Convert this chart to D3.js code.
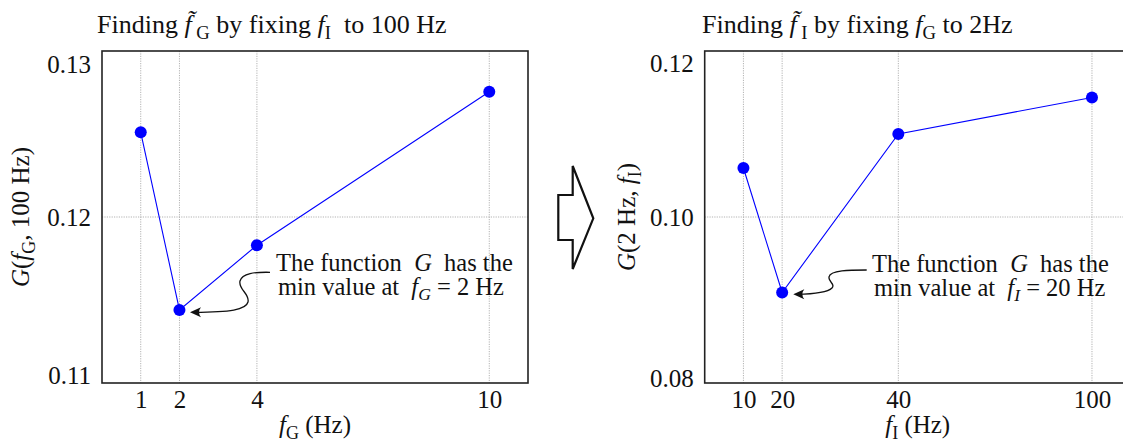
<!DOCTYPE html>
<html><head><meta charset="utf-8">
<script src="https://cdn.jsdelivr.net/npm/d3@7"></script>
<style>
html,body{margin:0;padding:0;background:#fff;}
text{font-family:"Liberation Serif","Times New Roman",serif;fill:#111;white-space:pre;}
</style></head>
<body><svg id="c" width="1123" height="443"></svg>
<script>
// ---- data ----
const leftX = [1, 2, 4, 10];
const leftY = [0.1251, 0.1144, 0.1183, 0.12755];
const leftXTicks = [1, 2, 4, 10];
const leftXTickLabels = ["1", "2", "4", "10"];
const leftYTicks = [0.13, 0.12, 0.11];

const rightXPos = [1, 2, 5, 10];
const rightXLabels = ["10", "20", "40", "100"];
const rightY = [0.1059, 0.0909, 0.1100, 0.1144];
const rightYTicks = [0.12, 0.10, 0.08];

const svg = d3.select("#c");
const FONT = 25;

function rich(sel, parts, size) {
  let shift = 0;
  parts.forEach(([t, f]) => {
    f = f || "";
    const sub = f.includes("s");
    const target = sub ? size * 0.22 : 0;
    sel.append("tspan").text(t)
      .attr("dy", target - shift)
      .style("font-style", f.includes("i") ? "italic" : "normal")
      .style("font-size", sub ? (size * 0.72) + "px" : size + "px");
    shift = target;
  });
}

function panel(cfg) {
  const g = svg.append("g");
  const x = d3.scaleLinear().domain([0, 11]).range([cfg.x0, cfg.x0 + 426]);
  const y = d3.scaleLinear().domain(cfg.yDomain).range([383, 51]);

  g.selectAll(".vg").data(cfg.xTicks).join("line")
    .attr("x1", d => x(d)).attr("x2", d => x(d)).attr("y1", 51).attr("y2", 383)
    .attr("stroke", "#aaa").attr("stroke-width", 0.9).attr("stroke-dasharray", "1.2,1.2");
  g.append("line")
    .attr("x1", cfg.x0).attr("x2", cfg.x0 + 426).attr("y1", y(cfg.yTicks[1])).attr("y2", y(cfg.yTicks[1]))
    .attr("stroke", "#aaa").attr("stroke-width", 0.9).attr("stroke-dasharray", "1.2,1.2");

  const xa = g.append("g").attr("transform", "translate(0,383)")
    .call(d3.axisBottom(x).tickValues(cfg.xTicks).tickSize(0).tickPadding(7)
      .tickFormat((d, i) => cfg.xLabels[i]));
  xa.select(".domain").remove();
  xa.selectAll("text").style("font-size", FONT + "px").attr("font-family", null).attr("fill", "#111");

  const ya = g.append("g").attr("transform", `translate(${cfg.x0},0)`)
    .call(d3.axisLeft(y).tickValues(cfg.yTicks).tickSize(0).tickPadding(11)
      .tickFormat(d3.format(".2f")));
  ya.select(".domain").remove();
  ya.selectAll("text").style("font-size", FONT + "px").attr("font-family", null).attr("fill", "#111");
  ya.selectAll(".tick").filter((d, i) => i === 0).select("text").attr("dy", cfg.topDy);
  ya.selectAll(".tick").filter((d, i) => i === 2).select("text").attr("dy", cfg.botDy);

  g.append("rect").attr("x", cfg.x0).attr("y", 51).attr("width", 426).attr("height", 332)
    .attr("fill", "none").attr("stroke", "#222").attr("stroke-width", 1.6);

  const pts = cfg.xs.map((d, i) => [d, cfg.ys[i]]);
  g.append("path").datum(pts)
    .attr("d", d3.line().x(d => x(d[0])).y(d => y(d[1])))
    .attr("fill", "none").attr("stroke", "#0000ff").attr("stroke-width", 1.1);
  g.selectAll(".pt").data(pts).join("circle")
    .attr("cx", d => x(d[0])).attr("cy", d => y(d[1])).attr("r", 6).attr("fill", "#0000ff");

  rich(svg.append("text").attr("x", cfg.titleX).attr("y", 33), cfg.title, 26);
  rich(svg.append("text").attr("x", x(5.5)).attr("y", 433).attr("text-anchor", "middle"), cfg.xTitle, 25);
  rich(svg.append("text").attr("transform", `translate(${cfg.yTitleX},217) rotate(-90)`).attr("text-anchor", "middle"), cfg.yTitle, 25);

  const a1 = svg.append("text").attr("x", cfg.annX).attr("y", cfg.annY);
  rich(a1, cfg.ann1, 24.5);
  const a2 = svg.append("text").attr("x", cfg.annX + 2).attr("y", cfg.annY + 24);
  rich(a2, cfg.ann2, 24.5);

  g.append("path").attr("d", cfg.curve).attr("fill", "none").attr("stroke", "#111").attr("stroke-width", 1.3);
  const [tx, ty] = cfg.tip;
  g.append("path")
    .attr("d", `M${tx},${ty} L${tx + 11},${ty - 5} Q${tx + 7},${ty} ${tx + 11},${ty + 5} Z`)
    .attr("fill", "#111");
}

panel({
  x0: 102, yDomain: [0.11, 0.13], xTicks: leftXTicks, xLabels: leftXTickLabels, yTicks: leftYTicks,
  xs: leftX, ys: leftY, titleX: 97, topDy: "0.84em", botDy: "0.0em",
  title: [["Finding "], ["f\u0303", "i"], [" G", "s"], [" by fixing "], ["f", "i"], ["I", "s"], ["  to 100 Hz"]],
  xTitle: [["f", "i"], ["G", "s"], [" (Hz)"]],
  yTitle: [["G", "i"], ["("], ["f", "i"], ["G", "s"], [", 100 Hz)"]], yTitleX: 29,
  annX: 276, annY: 271,
  ann1: [["The function  "], ["G", "i"], ["  has the"]],
  ann2: [["min value at  "], ["f", "i"], ["G", "is"], [" = 2 Hz"]],
  curve: "M270,272.3 C255,272 242,273 240,281 C238,289 250,294 248,302 C246,310 230,312 194,312.3",
  tip: [190, 312.3]
});

panel({
  x0: 704.7, yDomain: [0.08, 0.12], xTicks: rightXPos, xLabels: rightXLabels, yTicks: rightYTicks,
  xs: rightXPos, ys: rightY, titleX: 702, topDy: "0.8em", botDy: "0.12em",
  title: [["Finding "], ["f\u0303", "i"], [" I", "s"], [" by fixing "], ["f", "i"], ["G", "s"], [" to 2Hz"]],
  xTitle: [["f", "i"], ["I", "s"], [" (Hz)"]],
  yTitle: [["G", "i"], ["(2 Hz, "], ["f", "i"], ["I", "s"], [")"]], yTitleX: 635,
  annX: 872, annY: 272,
  ann1: [["The function  "], ["G", "i"], ["  has the"]],
  ann2: [["min value at  "], ["f", "i"], ["I", "is"], [" = 20 Hz"]],
  curve: "M866.7,270 C850,270 830,270 829,277 C828,282 836,284 832,288 C828,292 815,294 797,294.3",
  tip: [793.3, 294.3]
});

svg.append("path")
  .attr("d", "M558.3,195 L572.7,195 L572.7,166 L593.3,218.3 L572.7,269 L572.7,240 L558.3,240 Z")
  .attr("fill", "none").attr("stroke", "#111").attr("stroke-width", 2.2).attr("stroke-linejoin", "miter");
</script></body></html>
